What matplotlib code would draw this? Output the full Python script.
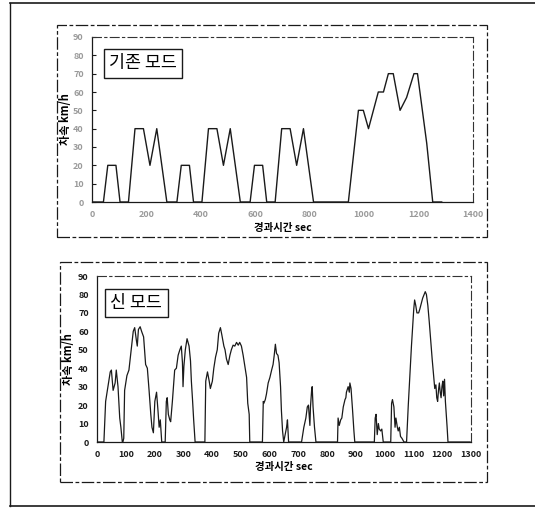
import matplotlib
matplotlib.use("Agg")
import matplotlib.pyplot as plt
from matplotlib.lines import Line2D
from matplotlib.patches import Rectangle

plt.rcParams['font.family'] = ['Noto Sans CJK KR', 'DejaVu Sans']

# ---------------- data ----------------
old_title = "기존 모드"
new_title = "신 모드"
y_label = "차속 km/h"
x_label = "경과시간 sec"

old_yticks = [0, 10, 20, 30, 40, 50, 60, 70, 80, 90]
old_xticks = [0, 200, 400, 600, 800, 1000, 1200, 1400]
new_yticks = [0, 10, 20, 30, 40, 50, 60, 70, 80, 90]
new_xticks = [0, 100, 200, 300, 400, 500, 600, 700, 800, 900, 1000, 1100, 1200, 1300]

# existing mode (stylised cycle): times (s) and speeds (km/h)
old_t = [0, 42, 58, 88, 103, 134, 158, 189, 213, 238, 275,
         312, 328, 358, 373, 404, 428, 459, 483, 508, 545,
         581, 597, 627, 642, 673, 697, 728, 752, 777, 814,
         942, 979, 997, 1016, 1052, 1071, 1089, 1107, 1132, 1156, 1183, 1196, 1230, 1252, 1285]
old_v = [0, 0, 20, 20, 0, 0, 40, 40, 20, 40, 0,
         0, 20, 20, 0, 0, 40, 40, 20, 40, 0,
         0, 20, 20, 0, 0, 40, 40, 20, 40, 0,
         0, 50, 50, 40, 60, 60, 70, 70, 50, 57, 70, 70, 32, 0, 0]

# new mode: times (s) and speeds (km/h)
new_t = [0, 24, 30, 38, 46, 50, 56, 63, 67, 73, 77, 79, 83, 88,
         90, 93, 96, 104, 111, 119, 126, 131, 137, 140, 144, 150, 155, 162, 169, 175, 181, 187,
         191, 196, 201, 207, 212, 216, 220, 225,
         237, 241, 244, 248, 253, 256, 262, 267, 270, 276, 282, 288, 293, 297, 299, 302, 307,
         313, 320, 325, 328, 332, 336, 341,
         375, 378, 384, 390, 394, 401, 406, 412, 418, 423, 429, 434, 441, 445, 450, 456, 462,
         467, 473, 479, 485, 491, 496, 502, 508, 514, 520, 524, 529, 531,
         575, 578, 580, 585, 589, 595, 601, 607, 612, 616, 620, 624, 629, 633, 638, 641, 645,
         649, 654, 659, 662, 666,
         711, 719, 726, 731, 735, 740, 742, 746, 748, 751, 756, 761,
         836, 838, 842, 847, 851, 856, 862, 865, 867, 873, 877, 879, 883, 888, 893, 896,
         964, 967, 970, 974, 978, 981, 986, 990, 995,
         1021, 1024, 1027, 1032, 1036, 1039, 1044, 1047, 1051, 1055, 1060, 1067,
         1076, 1082, 1088, 1093, 1097, 1101, 1104, 1108, 1112, 1118, 1122, 1127, 1132, 1137,
         1141, 1145, 1150, 1155, 1160, 1165, 1170, 1174, 1178, 1181, 1184, 1187, 1190, 1193,
         1196, 1199, 1202, 1205, 1208, 1211, 1214, 1217, 1220, 1297]
new_v = [0, 0, 22, 30, 38, 39, 28, 32, 39, 30, 19, 13, 8, 0,
         0, 2, 28, 36, 39, 50, 60, 62, 55, 52, 61, 62.5, 60, 57, 42, 40, 28, 15,
         8, 5, 22, 27, 17, 8, 12, 0,
         0, 22, 24, 15, 12, 11, 22, 33, 39, 40, 47, 50, 52, 43, 30, 41, 50,
         56, 52, 44, 33, 23, 12, 0,
         0, 33, 38, 33, 29, 33, 40, 46, 50, 59, 62, 58, 52, 50, 45, 42, 47,
         50, 52.5, 52, 54, 52.5, 54, 52, 47, 41, 35, 21, 15, 0,
         0, 22, 21, 23, 26, 32, 35, 39, 42, 47, 53, 48, 47, 43, 30, 17, 6,
         0, 4, 8, 12, 0,
         0, 8, 13, 19, 20, 9, 19, 28, 30, 19, 8, 0,
         0, 13, 9, 12, 13, 19, 23, 24, 27, 30, 27, 32, 29, 18, 6, 0,
         0, 13, 15, 4, 10, 7, 6, 7, 0,
         0, 21, 23, 19, 8, 13, 8, 6, 8, 3, 2, 0,
         0, 20, 38, 52, 62, 72, 77, 74, 70, 70, 72, 75, 78, 80,
         81.5, 80, 74, 65, 55, 45, 36, 29, 31, 24, 22, 28, 32, 27,
         24, 30, 33, 25, 34, 22, 15, 8, 0, 0]

# ---------------- figure ----------------
W, H = 535, 508
fig = plt.figure(figsize=(W / 100, H / 100), dpi=100)
fig.patch.set_facecolor('white')

def fx(px):
    return px / W

def fy(py):
    return 1 - py / H

ink = '#1a1a1a'

# outer border (left, top, bottom)
fig.add_artist(Line2D([fx(10), fx(10)], [fy(3), fy(506)], color=ink, lw=1.0))
fig.add_artist(Line2D([fx(10), fx(535)], [fy(3), fy(3)], color=ink, lw=1.2))
fig.add_artist(Line2D([fx(10), fx(535)], [fy(506), fy(506)], color=ink, lw=1.2))

# panel boxes (dashed, scanned look)
for (x0, y0, x1, y1) in [(57, 25, 487, 237), (60, 262, 487, 482)]:
    fig.add_artist(Rectangle((fx(x0), fy(y1)), fx(x1) - fx(x0), fy(y0) - fy(y1),
                             transform=fig.transFigure, fill=False, edgecolor=ink,
                             lw=0.9, linestyle=(0, (10, 2, 3, 2))))

def style_axes(ax, faint):
    for s in ['top', 'right']:
        ax.spines[s].set_linestyle((0, (8, 3, 2, 3)))
        ax.spines[s].set_linewidth(0.8)
        ax.spines[s].set_color('#333333')
    for s in ['left', 'bottom']:
        ax.spines[s].set_linewidth(0.9)
        ax.spines[s].set_color(ink)
    col = '#9a9a9a' if faint else ink
    ax.tick_params(axis='both', direction='in', length=3, width=0.8, color=ink,
                   labelsize=6.5, labelcolor=col, pad=6)
    ax.tick_params(axis='x', length=0)
    for lab in ax.get_xticklabels() + ax.get_yticklabels():
        lab.set_fontweight('bold')

# ---- top: existing mode ----
ax1 = fig.add_axes([fx(92), fy(202), fx(473) - fx(92), fy(37) - fy(202)])
ax1.plot(old_t, old_v, color=ink, lw=1.0)
ax1.set_xlim(0, 1400)
ax1.set_ylim(0, 90)
ax1.set_xticks(old_xticks)
ax1.set_yticks(old_yticks)
style_axes(ax1, faint=True)
ax1.set_ylabel(y_label, fontsize=8, fontweight='bold', labelpad=1)
ax1.set_xlabel(x_label, fontsize=7.5, fontweight='bold', labelpad=3)
ax1.text(0.045, 0.895, old_title, transform=ax1.transAxes, fontsize=12.5,
         va='top', ha='left',
         bbox=dict(boxstyle='square,pad=0.3', facecolor='white', edgecolor=ink, lw=1.0))

# ---- bottom: new mode ----
ax2 = fig.add_axes([fx(97), fy(442), fx(471) - fx(97), fy(276) - fy(442)])
ax2.plot(new_t, new_v, color=ink, lw=0.9)
ax2.set_xlim(0, 1300)
ax2.set_ylim(0, 90)
ax2.set_xticks(new_xticks)
ax2.set_yticks(new_yticks)
style_axes(ax2, faint=False)
ax2.tick_params(axis='y', length=0)
ax2.set_ylabel(y_label, fontsize=8, fontweight='bold', labelpad=2)
ax2.set_xlabel(x_label, fontsize=7.5, fontweight='bold', labelpad=2)
ax2.text(0.036, 0.89, new_title, transform=ax2.transAxes, fontsize=12.5,
         va='top', ha='left',
         bbox=dict(boxstyle='square,pad=0.3', facecolor='white', edgecolor=ink, lw=1.0))

fig.savefig('out.png', dpi=100, facecolor='white')
